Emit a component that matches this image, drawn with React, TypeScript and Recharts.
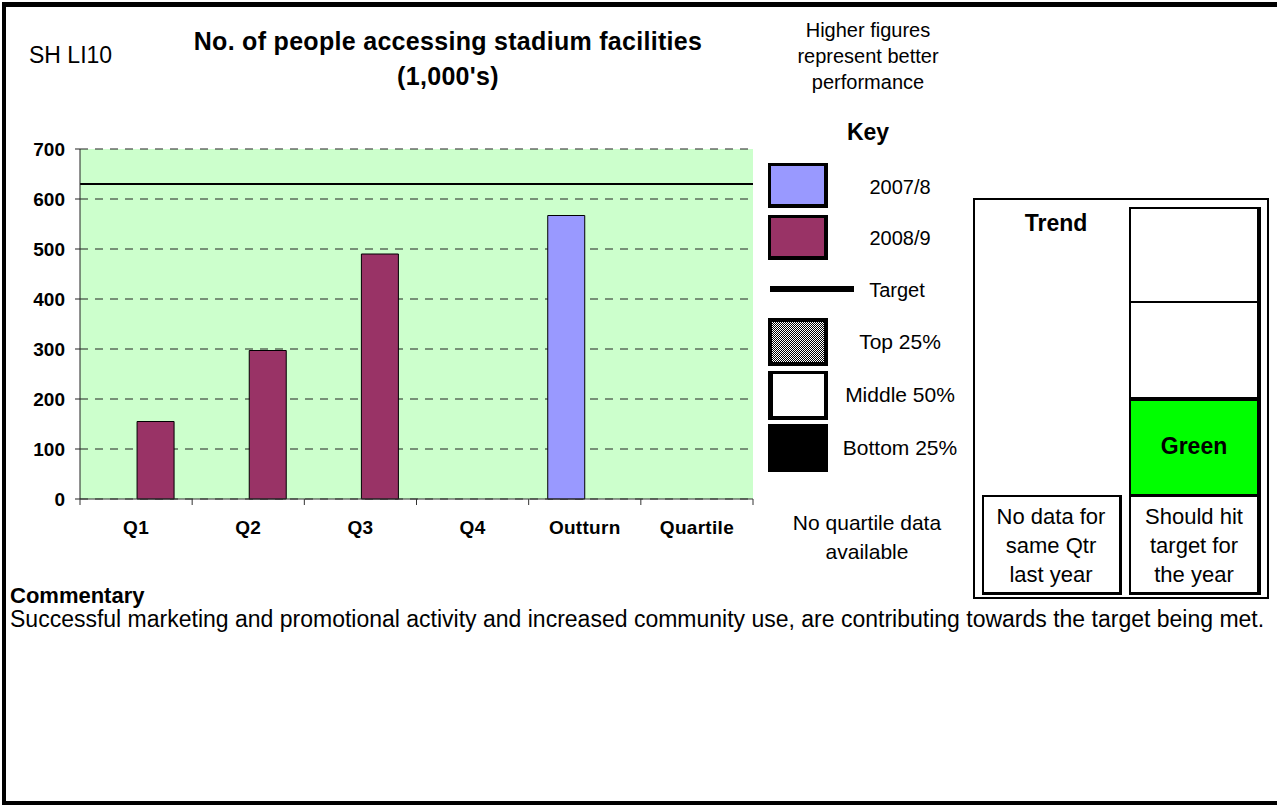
import { ComposedChart, Bar, XAxis, YAxis, CartesianGrid, ReferenceLine } from 'recharts'

const categories = ['Q1', 'Q2', 'Q3', 'Q4', 'Outturn', 'Quartile']
const values2007 = [null, null, null, null, 567, null]
const values2008 = [155, 297, 490, null, null, null]
const target = 630
const yTicks = [0, 100, 200, 300, 400, 500, 600, 700]

const data = categories.map((name, i) => ({
  name,
  y2007: values2007[i],
  y2008: values2008[i],
}))

const FONT = '"Liberation Sans", Arial, sans-serif'
const CHART_W = 760
const CHART_H = 560
const MARGIN = { top: 149, right: 7, bottom: 0, left: 0 }
const Y_WIDTH = 80
const PLOT_W = CHART_W - MARGIN.right - Y_WIDTH
const BAND = PLOT_W / categories.length
const X_TICK = 6

function XTick(props: any) {
  const { x, y, payload, index } = props
  const axisY = y - X_TICK
  const half = BAND / 2
  return (
    <g>
      <line x1={x - half} x2={x - half} y1={axisY} y2={axisY + X_TICK} stroke="#333" />
      {index === categories.length - 1 && (
        <line x1={x + half} x2={x + half} y1={axisY} y2={axisY + X_TICK} stroke="#333" />
      )}
      <text
        x={x}
        y={axisY + 28}
        dy="0.355em"
        textAnchor="middle"
        fontFamily={FONT}
        fontSize={19}
        fontWeight="bold"
        fill="#000"
        letterSpacing={0.3}
      >
        {payload.value}
      </text>
    </g>
  )
}

// centred lines of text, y = centre of first line
function Lines({ x, y, lines, size, bold = false, lh = 29, w = 240, ls = 0 }: any) {
  return (
    <div
      style={{
        position: 'absolute',
        left: x - w / 2,
        top: y - lh / 2,
        width: w,
        textAlign: 'center',
        fontSize: size,
        lineHeight: `${lh}px`,
        fontWeight: bold ? 'bold' : 'normal',
        whiteSpace: 'nowrap',
        letterSpacing: ls,
      }}
    >
      {lines.map((l: string, i: number) => (
        <div key={i}>{l}</div>
      ))}
    </div>
  )
}

function Box({ x, y, w, h, style }: any) {
  return (
    <div
      style={{
        position: 'absolute',
        left: x,
        top: y,
        width: w,
        height: h,
        boxSizing: 'border-box',
        ...style,
      }}
    />
  )
}

export default function App() {
  return (
    <div
      style={{
        position: 'absolute',
        left: 0,
        top: 0,
        width: 1277,
        height: 805,
        overflow: 'hidden',
        background: '#fff',
        fontFamily: FONT,
        color: '#000',
      }}
    >
      {/* frame */}
      <div
        style={{
          position: 'absolute',
          left: 2,
          top: 2,
          width: 1290,
          height: 803,
          boxSizing: 'border-box',
          borderTop: '5px solid #000',
          borderLeft: '4px solid #000',
          borderBottom: '4px solid #000',
        }}
      />

      <div style={{ position: 'absolute', left: 0, top: 0 }}>
        <ComposedChart
          width={CHART_W}
          height={CHART_H}
          data={data}
          margin={MARGIN}
          barCategoryGap="17%"
          barGap={1}
        >
          <CartesianGrid
            vertical={false}
            fill="#CCFFCC"
            stroke="#222"
            strokeDasharray="8 7"
          />
          <XAxis
            dataKey="name"
            interval={0}
            height={CHART_H - MARGIN.top - 350}
            tickLine={false}
            tickSize={X_TICK}
            tickMargin={0}
            axisLine={{ stroke: '#333' }}
            tick={<XTick />}
          />
          <YAxis
            width={Y_WIDTH}
            domain={[0, 700]}
            ticks={yTicks}
            interval={0}
            tickSize={5}
            tickMargin={10}
            axisLine={{ stroke: '#222' }}
            tickLine={{ stroke: '#222' }}
            tick={{ fontSize: 19, fontWeight: 'bold', fill: '#000', fontFamily: FONT }}
          />
          <Bar dataKey="y2007" fill="#9999FF" stroke="#000" strokeWidth={1} isAnimationActive={false} />
          <Bar dataKey="y2008" fill="#993366" stroke="#000" strokeWidth={1} isAnimationActive={false} />
          <ReferenceLine y={target} stroke="#000" strokeWidth={2} />
        </ComposedChart>
      </div>

      {/* headings */}
      <div style={{ position: 'absolute', left: 29, top: 41, fontSize: 23, lineHeight: '28px' }}>SH LI10</div>
      <Lines x={448} y={41} lines={['No. of people accessing stadium facilities', "(1,000's)"]} size={25} bold lh={35} w={600} ls={0.3} />
      <Lines x={868} y={30} lines={['Higher figures', 'represent better', 'performance']} size={20} lh={26} />
      <Lines x={868} y={132} lines={['Key']} size={23} bold />

      {/* key */}
      <Box x={768} y={163} w={60} h={45} style={{ background: '#9999FF', border: '3px solid #000', borderRightWidth: 4, borderBottomWidth: 4 }} />
      <Lines x={900} y={187} lines={['2007/8']} size={20} />
      <Box x={768} y={215} w={60} h={45} style={{ background: '#993366', border: '3px solid #000', borderRightWidth: 4, borderBottomWidth: 4 }} />
      <Lines x={900} y={238} lines={['2008/9']} size={20} />
      <Box x={770} y={286} w={84} h={6} style={{ background: '#000' }} />
      <Lines x={897} y={290} lines={['Target']} size={20} />
      <Box
        x={768}
        y={318}
        w={60}
        h={48}
        style={{
          background: 'repeating-conic-gradient(#000 0% 25%, #fff 0% 50%) 0 0 / 2px 2px',
          border: '4px solid #000',
        }}
      />
      <Lines x={900} y={341} lines={['Top 25%']} size={21} />
      <Box x={768} y={371} w={60} h={49} style={{ background: '#fff', border: '4px solid #000', borderLeftWidth: 5, borderTopWidth: 3 }} />
      <Lines x={900} y={394} lines={['Middle 50%']} size={21} />
      <Box x={768} y={424} w={60} h={48} style={{ background: '#000' }} />
      <Lines x={900} y={447} lines={['Bottom 25%']} size={21} />
      <Lines x={867} y={522} lines={['No quartile data', 'available']} size={21} />

      {/* trend panel */}
      <Box x={973} y={198} w={296} h={401} style={{ border: '2px solid #000' }} />
      <Lines x={1056} y={223} lines={['Trend']} size={23} bold />
      <Box x={1129} y={207} w={132} h={96} style={{ border: '2px solid #000', borderRightWidth: 4, borderBottomWidth: 1 }} />
      <Box x={1129} y={301} w={132} h={98} style={{ border: '2px solid #000', borderRightWidth: 4, borderBottomWidth: 0 }} />
      <Box x={1129} y={397} w={132} h={99} style={{ background: '#00FF00', border: '2px solid #000', borderTopWidth: 4, borderRightWidth: 4, borderBottomWidth: 2 }} />
      <Lines x={1194} y={446} lines={['Green']} size={23} bold />
      <Box x={1129} y={495} w={132} h={100} style={{ border: '2px solid #000', borderRightWidth: 4, borderBottomWidth: 3 }} />
      <Lines x={1194} y={516} lines={['Should hit', 'target for', 'the year']} size={22} />
      <Box x={982} y={495} w={140} h={100} style={{ border: '2px solid #000', borderRightWidth: 3, borderBottomWidth: 3 }} />
      <Lines x={1051} y={516} lines={['No data for', 'same Qtr', 'last year']} size={22} />

      {/* commentary */}
      <div style={{ position: 'absolute', left: 10, top: 582, fontSize: 22, lineHeight: '28px', fontWeight: 'bold' }}>
        Commentary
      </div>
      <div style={{ position: 'absolute', left: 10, top: 605, fontSize: 23, lineHeight: '28px', whiteSpace: 'nowrap' }}>
        Successful marketing and promotional activity and increased community use, are contributing towards the target being met.
      </div>
    </div>
  )
}
